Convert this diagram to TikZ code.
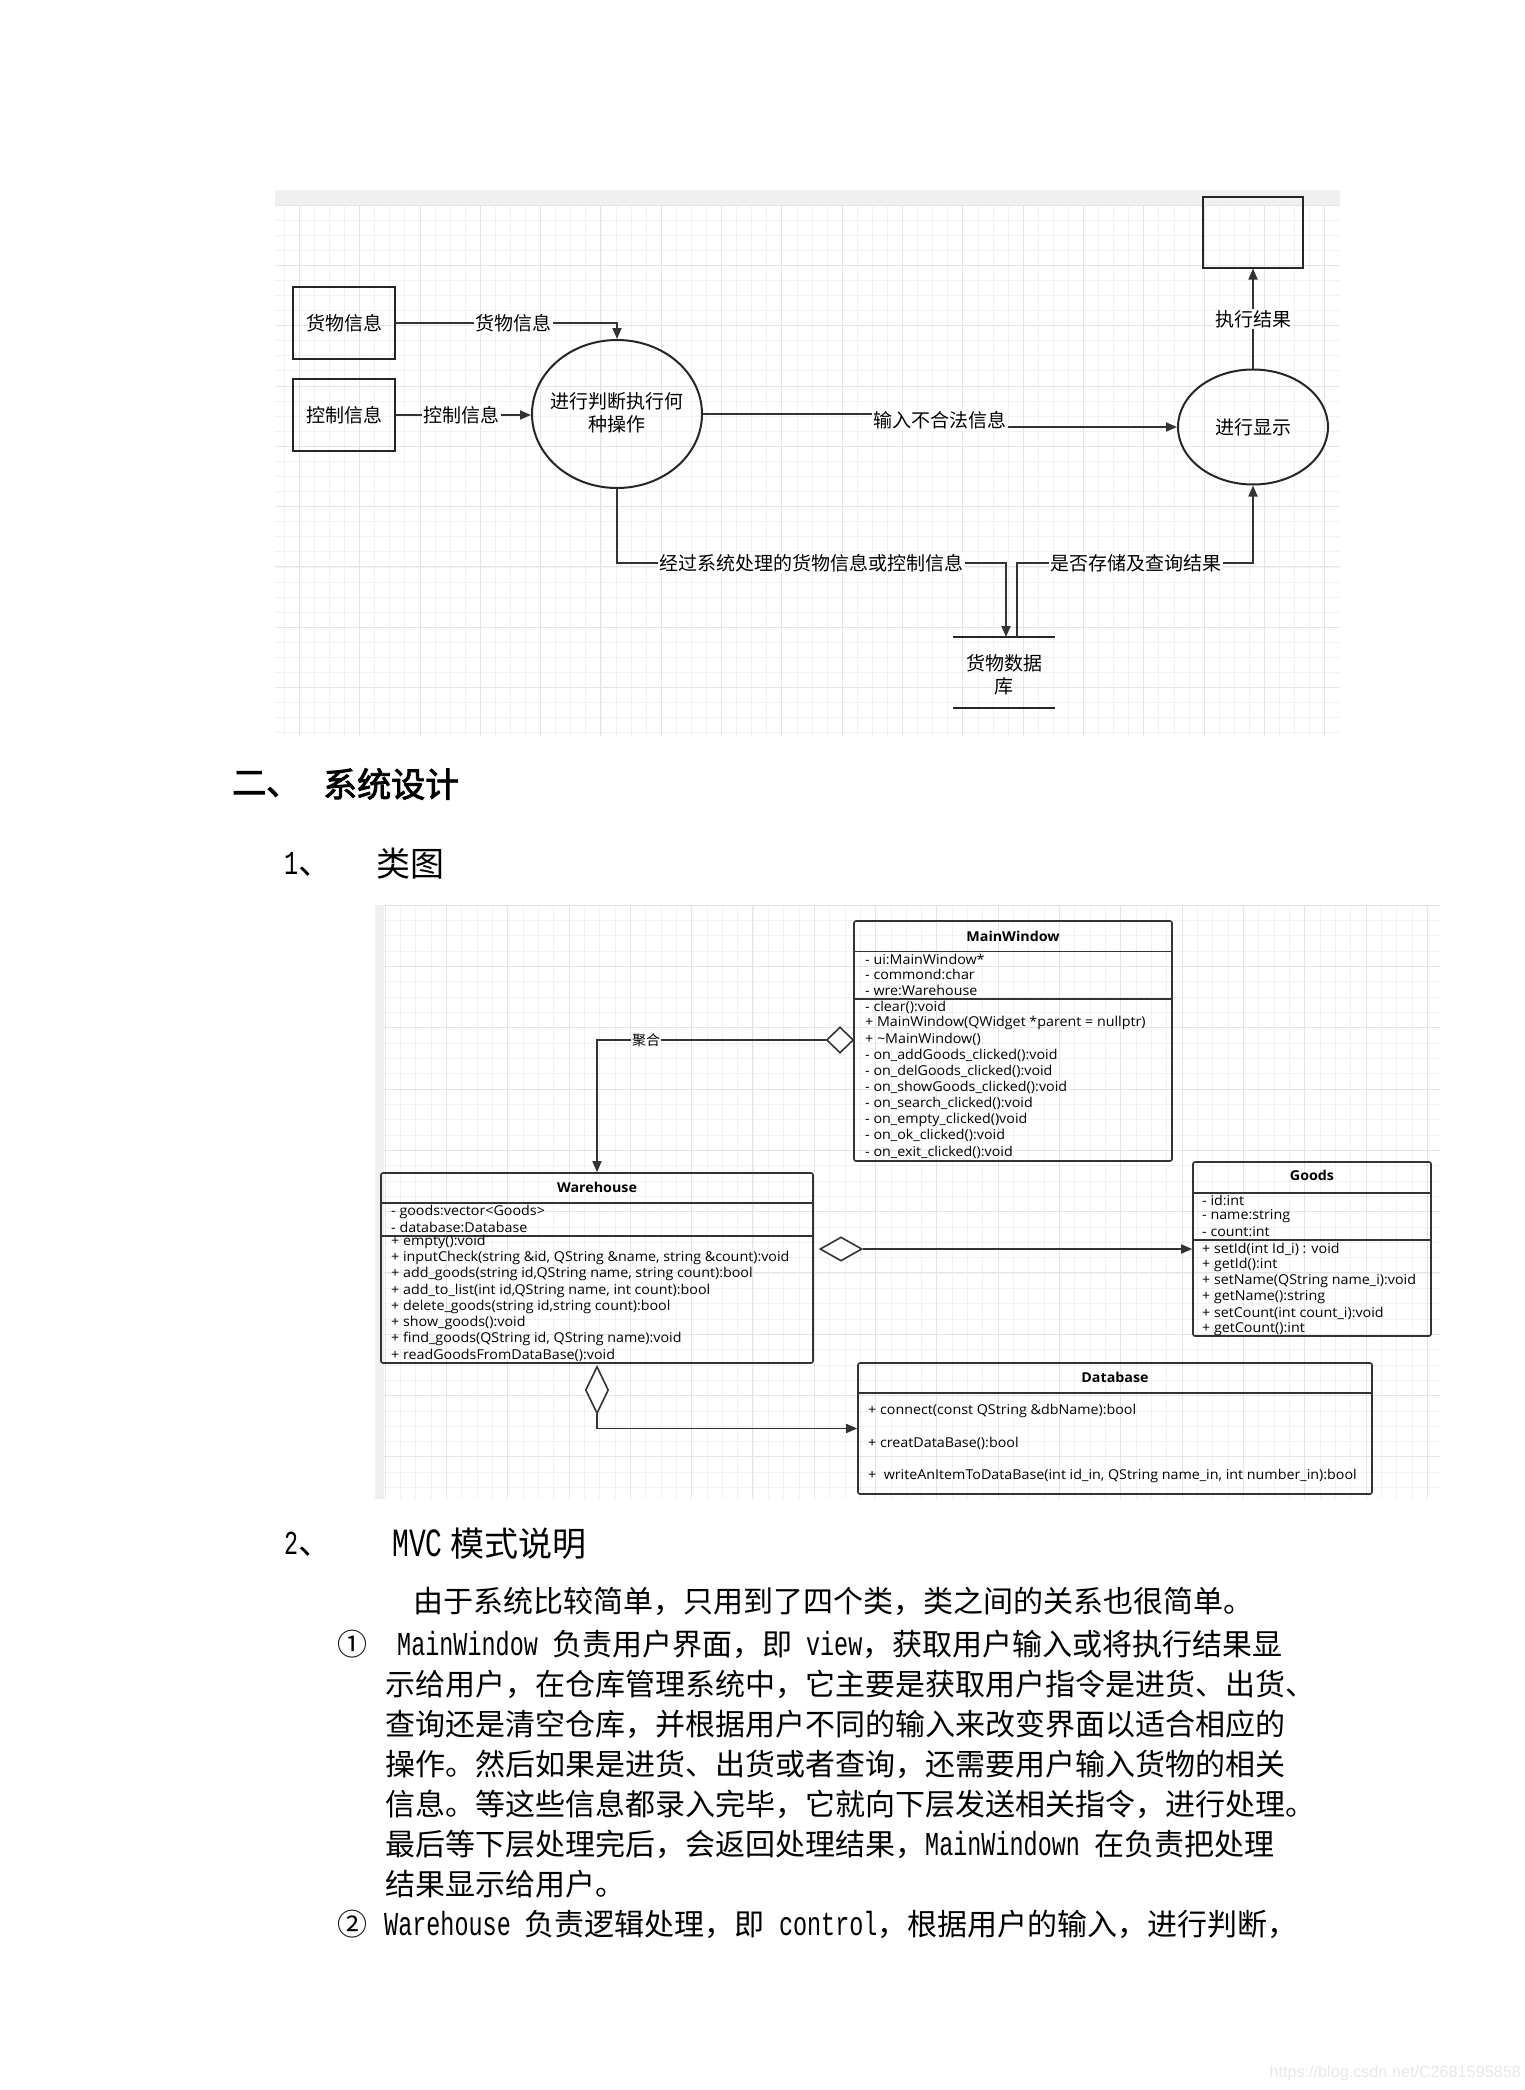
\documentclass[tikz,border=0pt]{standalone}
\usepackage{fontspec}
\usetikzlibrary{shapes.geometric,arrows.meta}
\setmainfont{Liberation Serif}
\newfontfamily\cjk[AutoFakeBold=2.5]{Noto Sans CJK SC}
\newfontfamily\umlf[FakeStretch=1.05]{Open Sans}
\newfontfamily\monoc[FakeStretch=0.70]{Liberation Mono}
\newfontfamily\wmf{Liberation Sans}
\newcommand\latx[1]{{\monoc\fontsize{33.5}{40}\selectfont #1}}
\tikzset{
  minorg/.style={draw=black!5, line width=0.8pt},
  majorg/.style={draw=black!10, line width=0.9pt},
  dfdline/.style={draw=black!80, line width=1.8pt},
  dfdarr/.style={dfdline, -{Triangle[length=11pt,width=9pt]}},
  dfdfont/.style={font=\cjk\fontsize{19}{23}\selectfont},
  dfdbox/.style={draw=black!85, line width=2pt, inner sep=0pt, dfdfont},
  dfdell/.style={ellipse, draw=black!85, line width=2pt, inner sep=0pt},
  dfdlbl/.style={fill=white, inner sep=1.5pt, dfdfont},
  umlbox/.style={draw=black!80, line width=1.6pt, rounded corners=2pt, inner sep=0pt},
  umlsep/.style={draw=black!80, line width=1.6pt},
  umlttl/.style={font=\umlf\bfseries\fontsize{13.6}{15}\selectfont, inner sep=0pt},
  umltxt/.style={font=\umlf\fontsize{13.6}{15}\selectfont, inner sep=0pt, anchor=west},
  umlarr/.style={draw=black!80, line width=1.6pt, -{Triangle[length=11pt,width=9pt]}},
  umldia/.style={diamond, draw=black!80, line width=1.6pt, fill=white, inner sep=0pt},
  body/.style={font=\cjk\fontsize{30}{40}\selectfont, inner sep=0pt, anchor=west},
  head/.style={font=\cjk\fontsize{34}{40}\selectfont, inner sep=0pt, anchor=west}
}
\begin{document}
\begin{tikzpicture}[x=1pt,y=-1pt]
\useasboundingbox (0,0) rectangle (1524,2090);
\fill[white] (0,0) rectangle (1524,2090);

% ================= DFD background =================
\fill[black!6] (275,190) rectangle (1340,205);
\foreach \i in {3,...,72} {\draw[minorg] (239+15.08*\i,205) -- (239+15.08*\i,736);}
\foreach \j in {1,...,35} {\draw[minorg] (275,205+15.08*\j) -- (1340,205+15.08*\j);}
\foreach \i in {4,8,...,72} {\draw[majorg] (239+15.08*\i,205) -- (239+15.08*\i,736);}
\foreach \j in {0,4,...,32} {\draw[majorg] (275,205+15.08*\j) -- (1340,205+15.08*\j);}

% ================= DFD nodes =================
\node[dfdbox, minimum width=102pt, minimum height=72pt] (b1) at (344,323) {货物信息};
\node[dfdbox, minimum width=102pt, minimum height=72pt] (b2) at (344,415) {控制信息};
\node[dfdell, minimum width=170pt, minimum height=148pt] (e1) at (617,414) {};
\node[dfdfont, align=center, inner sep=0pt] (e1t) at (617,413) {进行判断执行何\\种操作};
\node[dfdell, minimum width=150pt, minimum height=115pt] (e2) at (1253,427) {};
\node[dfdfont, inner sep=0pt] (e2t) at (1253,427) {进行显示};
\node[dfdbox, minimum width=100pt, minimum height=71pt] (top) at (1253,232) {};
\node[dfdfont, align=center, inner sep=0pt] (dbt) at (1004,675) {货物数据\\库};
\coordinate (dbl1) at (953,637);
\coordinate (dbr1) at (1055,637);
\coordinate (dbl2) at (953,708);
\coordinate (dbr2) at (1055,708);
\draw[draw=black!85, line width=2.2pt] (dbl1) -- (dbr1);
\draw[draw=black!85, line width=2.2pt] (dbl2) -- (dbr2);

% ================= DFD connectors =================
\draw[dfdarr] (b1.east) -| (e1.north);
\draw[dfdarr] (b2.east) -- (b2.east -| e1.west);
\coordinate (jg1) at (940,414);
\coordinate (jg2) at (940,427);
\draw[dfdarr] (e1.east) -- (jg1) -- (jg2) -- (e2.west);
\coordinate (dn1) at (1006,563);
\coordinate (dn2) at (1006,637);
\draw[dfdarr] (e1.south) |- (dn1) -- (dn2);
\coordinate (up1) at (1017,637);
\coordinate (up2) at (1017,563);
\draw[dfdarr] (up1) -- (up2) -| (e2.south);
\draw[dfdarr] (e2.north) -- (top.south);

\node[dfdlbl] (l1) at (513,323) {货物信息};
\node[dfdlbl] (l2) at (461,415) {控制信息};
\node[dfdlbl] (l3) at (940,420) {输入不合法信息};
\node[dfdlbl] (l4) at (811,563) {经过系统处理的货物信息或控制信息};
\node[dfdlbl] (l5) at (1136,563) {是否存储及查询结果};
\node[dfdlbl] (l6) at (1253,319) {执行结果};

% ================= Headings =================
\node[head, font=\cjk\bfseries\fontsize{34}{40}\selectfont] (h1a) at (232,784) {二、};
\node[head, font=\cjk\bfseries\fontsize{34}{40}\selectfont] (h1b) at (323,784) {系统设计};
\node[head] (h2a) at (284,864) {\latx{1}、};
\node[head] (h2b) at (376,864) {类图};

% ================= Class diagram background =================
\fill[black!6] (375,905) rectangle (384,1499);
\foreach \i in {0,...,68} {\draw[minorg] (385+15.33*\i,905) -- (385+15.33*\i,1499);}
\foreach \j in {0,...,38} {\draw[minorg] (384,905+15.33*\j) -- (1440,905+15.33*\j);}
\foreach \i in {0,4,...,68} {\draw[majorg] (385+15.33*\i,905) -- (385+15.33*\i,1499);}
\foreach \j in {0,4,...,36} {\draw[majorg] (384,905+15.33*\j) -- (1440,905+15.33*\j);}

% ================= MainWindow =================
\node[umlbox, minimum width=318pt, minimum height=240pt] (mw) at (1013,1041) {};
\draw[umlsep] (mw.west |- 0,951.5) -- (mw.east |- 0,951.5);
\draw[umlsep] (mw.west |- 0,999) -- (mw.east |- 0,999);
\node[umlttl] (mwt) at (1013,936) {MainWindow};
\foreach \t [count=\i from 0] in {{- ui:MainWindow*},{- commond:char},{- wre:Warehouse}}
  {\node[umltxt] (mwa\i) at (865,959+15.5*\i) {\t};}
\foreach \t [count=\i from 0] in {{- clear():void},{+ MainWindow(QWidget *parent = nullptr)},{+ \textasciitilde MainWindow()},{- on\_addGoods\_clicked():void},{- on\_delGoods\_clicked():void},{- on\_showGoods\_clicked():void},{- on\_search\_clicked():void},{- on\_empty\_clicked()void},{- on\_ok\_clicked():void},{- on\_exit\_clicked():void}}
  {\node[umltxt] (mwm\i) at (865,1007+16.1*\i) {\t};}

% ================= Warehouse =================
\node[umlbox, minimum width=432pt, minimum height=190pt] (wh) at (597,1268) {};
\draw[umlsep] (wh.west |- 0,1203) -- (wh.east |- 0,1203);
\draw[umlsep] (wh.west |- 0,1236) -- (wh.east |- 0,1236);
\node[umlttl] (wht) at (597,1187) {Warehouse};
\foreach \t [count=\i from 0] in {{- goods:vector<Goods>},{- database:Database}}
  {\node[umltxt] (wha\i) at (391,1212+15*\i) {\t};}
\foreach \t [count=\i from 0] in {{+ empty():void},{+ inputCheck(string \&id, QString \&name, string \&count):void},{+ add\_goods(string id,QString name, string count):bool},{+ add\_to\_list(int id,QString name, int count):bool},{+ delete\_goods(string id,string count):bool},{+ show\_goods():void},{+ find\_goods(QString id, QString name):void},{+ readGoodsFromDataBase():void}}
  {\node[umltxt] (whm\i) at (391,1242+16.2*\i) {\t};}

% ================= Goods =================
\node[umlbox, minimum width=238pt, minimum height=174pt] (gd) at (1312,1249) {};
\draw[umlsep] (gd.west |- 0,1193) -- (gd.east |- 0,1193);
\draw[umlsep] (gd.west |- 0,1240) -- (gd.east |- 0,1240);
\node[umlttl] (gdt) at (1312,1175) {Goods};
\foreach \t [count=\i from 0] in {{- id:int},{- name:string},{- count:int}}
  {\node[umltxt] (gda\i) at (1202,1200+16*\i) {\t};}
\foreach \t [count=\i from 0] in {{+ setId(int Id\_i) : void},{+ getId():int},{+ setName(QString name\_i):void},{+ getName():string},{+ setCount(int count\_i):void},{+ getCount():int}}
  {\node[umltxt] (gdm\i) at (1202,1249+16*\i) {\t};}

% ================= Database =================
\node[umlbox, minimum width=514pt, minimum height=131pt] (db) at (1115,1428.5) {};
\draw[umlsep] (db.west |- 0,1393) -- (db.east |- 0,1393);
\node[umlttl] (dbtt) at (1115,1377) {Database};
\node[umltxt] (dbm0) at (868,1411) {+ connect(const QString \&dbName):bool};
\node[umltxt] (dbm1) at (868,1443) {+ creatDataBase():bool};
\node[umltxt] (dbm2) at (868,1476) {+ \ writeAnItemToDataBase(int id\_in, QString name\_in, int number\_in):bool};

% ================= Class connectors =================
\node[umldia, minimum width=27pt, minimum height=26pt] (d1) at (840,1040) {};
\draw[umlarr] (d1.west) -| (wh.north);
\node[fill=white, inner sep=1pt, font=\cjk\fontsize{14}{16}\selectfont] (agl) at (646,1040) {聚合};
\node[umldia, minimum width=42pt, minimum height=24pt] (d2) at (841,1249) {};
\draw[umlarr] (d2.east) -- (d2.east -| gd.west);
\node[umldia, minimum width=23pt, minimum height=47pt] (d3) at (597,1390) {};
\draw[umlarr] (d3.south) |- (db.west);

% ================= Section 2 text =================
\node[head] (h3a) at (284,1544) {\latx{2}、};
\node[head] (h3b) at (392,1544) {{\monoc\fontsize{40}{40}\selectfont MVC} 模式说明};

\node[body] (p1) at (413,1601) {由于系统比较简单，只用到了四个类，类之间的关系也很简单。};
\node[body] (c1) at (337,1644) {①};
\node[body] (p2) at (397,1644) {\latx{MainWindow }负责用户界面，即\latx{ view}，获取用户输入或将执行结果显};
\node[body] (p3) at (385,1684) {示给用户，在仓库管理系统中，它主要是获取用户指令是进货、出货、};
\node[body] (p4) at (385,1724) {查询还是清空仓库，并根据用户不同的输入来改变界面以适合相应的};
\node[body] (p5) at (385,1764) {操作。然后如果是进货、出货或者查询，还需要用户输入货物的相关};
\node[body] (p6) at (385,1804) {信息。等这些信息都录入完毕，它就向下层发送相关指令，进行处理。};
\node[body] (p7) at (385,1844) {最后等下层处理完后，会返回处理结果，\latx{MainWindown }在负责把处理};
\node[body] (p8) at (385,1884) {结果显示给用户。};
\node[body] (c2) at (337,1924) {②};
\node[body] (p9) at (384,1924) {\latx{Warehouse }负责逻辑处理，即\latx{ control}，根据用户的输入，进行判断，};

% ================= Watermark =================
\node[font=\wmf\fontsize{16.2}{18}\selectfont, text=black!9, inner sep=0pt, anchor=east] (wm) at (1521,2073) {https://blog.csdn.net/C2681595858};
\end{tikzpicture}
\end{document}
